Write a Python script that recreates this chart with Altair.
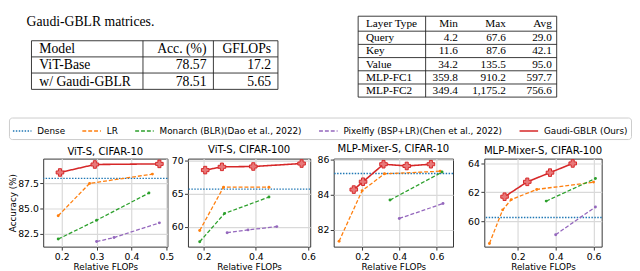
import altair as alt
import pandas as pd

# ---------------- text / table content ----------------
caption_text = "Gaudi-GBLR matrices."

t1_header = ["Model", "Acc. (%)", "GFLOPs"]
t1_rows = [["ViT-Base", "78.57", "17.2"],
           ["w/ Gaudi-GBLR", "78.51", "5.65"]]

t2_header = ["Layer Type", "Min", "Max", "Avg"]
t2_rows = [["Query", "4.2", "67.6", "29.0"],
           ["Key", "11.6", "87.6", "42.1"],
           ["Value", "34.2", "135.5", "95.0"],
           ["MLP-FC1", "359.8", "910.2", "597.7"],
           ["MLP-FC2", "349.4", "1,175.2", "756.6"]]

# ---------------- chart data ----------------
series_names = ["Dense", "LR", "Monarch (BLR)(Dao et al., 2022)",
                "Pixelfly (BSP+LR)(Chen et al., 2022)", "Gaudi-GBLR (Ours)"]
series_colors = ["#1f77b4", "#ff7f0e", "#2ca02c", "#9467bd", "#d62728"]

panel_titles = ["ViT-S, CIFAR-10", "ViT-S, CIFAR-100",
                "MLP-Mixer-S, CIFAR-10", "MLP-Mixer-S, CIFAR-100"]

dense_acc = [88.0, 65.7, 85.22, 60.28]

lr_x = [[0.19, 0.28, 0.46], [0.185, 0.276, 0.45],
        [0.076, 0.2, 0.32, 0.62], [0.05, 0.12, 0.165, 0.3, 0.6]]
lr_y = [[84.3, 87.5, 88.42], [59.4, 66.0, 66.0],
        [81.35, 84.24, 85.2, 85.35], [58.5, 60.8, 61.5, 62.2, 62.7]]

monarch_x = [[0.19, 0.30, 0.45], [0.185, 0.28, 0.45], [0.35, 0.63], [0.35, 0.61]]
monarch_y = [[82.0, 83.86, 86.55], [57.7, 62.0, 64.5], [83.7, 85.3], [61.4, 62.95]]

pixelfly_x = [[0.30, 0.35, 0.48], [0.29, 0.37, 0.48], [0.40, 0.635], [0.40, 0.61]]
pixelfly_y = [[81.75, 82.15, 83.6], [59.07, 59.5, 60.0], [82.65, 83.5], [59.1, 61.0]]

gaudi_x = [[0.195, 0.295, 0.48], [0.206, 0.27, 0.39, 0.575],
           [0.155, 0.205, 0.315, 0.44, 0.57], [0.13, 0.25, 0.37, 0.49]]
gaudi_y = [[88.58, 89.37, 89.43], [68.6, 69.1, 69.15, 69.6],
           [84.3, 84.75, 85.75, 85.65, 85.75], [61.7, 62.72, 63.35, 63.98]]

x_ticks = [[0.2, 0.3, 0.4, 0.5], [0.2, 0.4, 0.6], [0.2, 0.4, 0.6], [0.2, 0.4, 0.6]]
y_ticks = [[82.5, 85.0, 87.5], [60, 65, 70], [82, 84, 86], [60, 62, 64]]
y_formats = [".1f", "d", "d", "d"]

# ---------------- layout ----------------
x_domains = [[0.147, 0.503], [0.14, 0.608], [0.047, 0.689], [0.023, 0.643]]
y_domains = [[81.25, 89.95], [56.95, 70.35], [81.04, 86.07], [58.28, 64.31]]
panel_w = [127, 125, 122, 120]
panel_gaps = [21, 24, 32]
panel_h = 90
PANEL_TOP = 158

ORIGIN_X = 43   # page x of first panel's plot area
ORIGIN_Y = 8    # page y of the top block
TOP_W = 571
TOP_H = 100

t1_cols = [31, 145, 217, 283]
t1_rows_y = [37.5, 54.0, 70.5, 87.2]
t2_cols = [365, 434, 470, 519, 568]
t2_rows_y = [12.4, 27.7, 41.2, 54.7, 68.2, 81.7, 95.1]

# ---------------- top block (caption + tables) ----------------
text_recs = [{"x": 26, "y": 18, "t": caption_text, "a": "left", "s": 14}]
rule_recs = []

def add_table(header, rows, cols, rows_y, inner_v, size, first_pad, right_edges, right_pad):
    allrows = [header] + rows
    for r, row in enumerate(allrows):
        yc = (rows_y[r] + rows_y[r + 1]) / 2 + 0.5
        for c, cell in enumerate(row):
            if c == 0:
                text_recs.append({"x": cols[0] + first_pad, "y": yc, "t": cell, "a": "left", "s": size})
            else:
                text_recs.append({"x": right_edges[c - 1] - right_pad, "y": yc, "t": cell, "a": "right", "s": size})
    for yv in rows_y:
        rule_recs.append({"x": cols[0], "x2": cols[-1], "y": yv, "y2": yv})
    for xv in [cols[0]] + inner_v + [cols[-1]]:
        rule_recs.append({"x": xv, "x2": xv, "y": rows_y[0], "y2": rows_y[-1]})

add_table(t1_header, t1_rows, t1_cols, t1_rows_y, [t1_cols[1], t1_cols[2]], 14, 8,
          [t1_cols[2], t1_cols[3]], 7)
add_table(t2_header, t2_rows, t2_cols, t2_rows_y, [t2_cols[1]], 11.5, 8,
          [t2_cols[2] + 2, t2_cols[3] + 2, t2_cols[4]], 5)

text_df = pd.DataFrame(text_recs)
rule_df = pd.DataFrame(rule_recs)

tx = alt.Scale(domain=[ORIGIN_X, ORIGIN_X + TOP_W], nice=False, zero=False)
ty = alt.Scale(domain=[ORIGIN_Y + TOP_H, ORIGIN_Y], nice=False, zero=False)

layers = []
for size in sorted(set(text_df["s"])):
    for al in ["left", "right"]:
        layers.append(
            alt.Chart(text_df).transform_filter(
                (alt.datum.s == size) & (alt.datum.a == al)
            ).mark_text(font="Liberation Serif", fontSize=float(size), align=al,
                        baseline="middle", color="black").encode(
                x=alt.X("x:Q", scale=tx, axis=None),
                y=alt.Y("y:Q", scale=ty, axis=None),
                text="t:N",
            )
        )
rules = alt.Chart(rule_df).mark_rule(color="#222", strokeWidth=0.9).encode(
    x=alt.X("x:Q", scale=tx, axis=None), x2="x2:Q",
    y=alt.Y("y:Q", scale=ty, axis=None), y2="y2:Q",
)
top = alt.layer(rules, *layers).properties(
    width=TOP_W, height=TOP_H, view=alt.ViewBackground(stroke="transparent")
)

# ---------------- panels ----------------
color_enc = alt.Color("series:N",
                      scale=alt.Scale(domain=series_names, range=series_colors),
                      legend=alt.Legend(title=None))
dash_enc = alt.StrokeDash("series:N",
                          scale=alt.Scale(domain=series_names,
                                          range=[[1.5, 1.5], [4, 2], [4, 2], [4, 2], [1, 0]]),
                          legend=alt.Legend(title=None))

def panel(i):
    recs = []
    for name, xs, ys in [(series_names[1], lr_x[i], lr_y[i]),
                         (series_names[2], monarch_x[i], monarch_y[i]),
                         (series_names[3], pixelfly_x[i], pixelfly_y[i])]:
        for a, b in zip(xs, ys):
            recs.append({"series": name, "x": a, "y": b})
    dashed = pd.DataFrame(recs)
    gaudi = pd.DataFrame({"series": series_names[4], "x": gaudi_x[i], "y": gaudi_y[i]})
    dense = pd.DataFrame({"series": [series_names[0]], "y": [dense_acc[i]]})

    xs_ = alt.Scale(domain=x_domains[i], nice=False, zero=False)
    ys_ = alt.Scale(domain=y_domains[i], nice=False, zero=False)
    xenc = alt.X("x:Q", scale=xs_,
                 axis=alt.Axis(values=x_ticks[i], format=".1f", title="Relative FLOPs"))
    if i == 0:
        yaxis = alt.Axis(values=y_ticks[i], format=y_formats[i], title="Accuracy (%)")
    else:
        yaxis = alt.Axis(values=y_ticks[i], format=y_formats[i], title=None)
    yenc = alt.Y("y:Q", scale=ys_, axis=yaxis)

    dense_l = alt.Chart(dense).mark_rule(strokeWidth=1.4).encode(
        y=alt.Y("y:Q", scale=ys_, axis=yaxis), color=color_enc, strokeDash=dash_enc)
    dash_l = alt.Chart(dashed).mark_line(strokeWidth=1.3).encode(
        x=xenc, y=yenc, color=color_enc, strokeDash=dash_enc, detail="series:N")
    dots = alt.Chart(dashed).mark_circle(size=9, opacity=1).encode(
        x=xenc, y=yenc, color=color_enc)
    g_line = alt.Chart(gaudi).mark_line(strokeWidth=1.6).encode(
        x=xenc, y=yenc, color=color_enc, strokeDash=dash_enc)
    g_pts = alt.Chart(gaudi).mark_point(shape="cross", filled=True, size=60,
                                        fill="#e8797a", stroke="#d62728",
                                        strokeWidth=1, opacity=1).encode(x=xenc, y=yenc)
    return alt.layer(dense_l, dash_l, dots, g_line, g_pts).properties(
        width=panel_w[i], height=panel_h,
        title=alt.TitleParams(panel_titles[i], frame="group"))

def spacer(w):
    return alt.Chart(pd.DataFrame({"v": [0]})).mark_point(opacity=0).encode(
        x=alt.X("v:Q", axis=None), y=alt.Y("v:Q", axis=None)
    ).properties(width=w, height=panel_h, view=alt.ViewBackground(stroke="transparent"))

p = [panel(i) for i in range(4)]
panels = alt.hconcat(p[0], spacer(panel_gaps[0]), p[1], spacer(panel_gaps[1]),
                     p[2], spacer(panel_gaps[2]), p[3], spacing=0, bounds="flush")

chart = alt.vconcat(top, panels, spacing=PANEL_TOP - ORIGIN_Y - TOP_H, bounds="flush").configure_view(
    stroke="#333", strokeWidth=1
).configure_axis(
    labelFont="DejaVu Sans", labelFontSize=9.5, labelColor="black",
    titleFont="DejaVu Sans", titleFontSize=9, titleFontWeight="normal", titleColor="black",
    tickColor="#333", tickSize=3.5, domain=False, gridColor="#d9d9d9", gridWidth=1.2,
    labelPadding=1.5
).configure_axisX(
    titlePadding=1.5
).configure_axisY(
    titlePadding=0
).configure_title(
    font="DejaVu Sans", fontSize=10.3, fontWeight="normal", color="black", offset=1
).configure_legend(
    orient="none", legendX=8 - ORIGIN_X, legendY=108, direction="horizontal",
    symbolType="stroke", symbolSize=360, symbolStrokeWidth=1.5,
    labelFont="DejaVu Sans", labelFontSize=9, labelColor="black", labelLimit=300,
    columnPadding=14, labelOffset=5, strokeColor="#cccccc", fillColor="white",
    cornerRadius=3, padding=3
).properties(padding=0)

chart.save("out.html", embed_options={"renderer": "svg", "actions": False})
